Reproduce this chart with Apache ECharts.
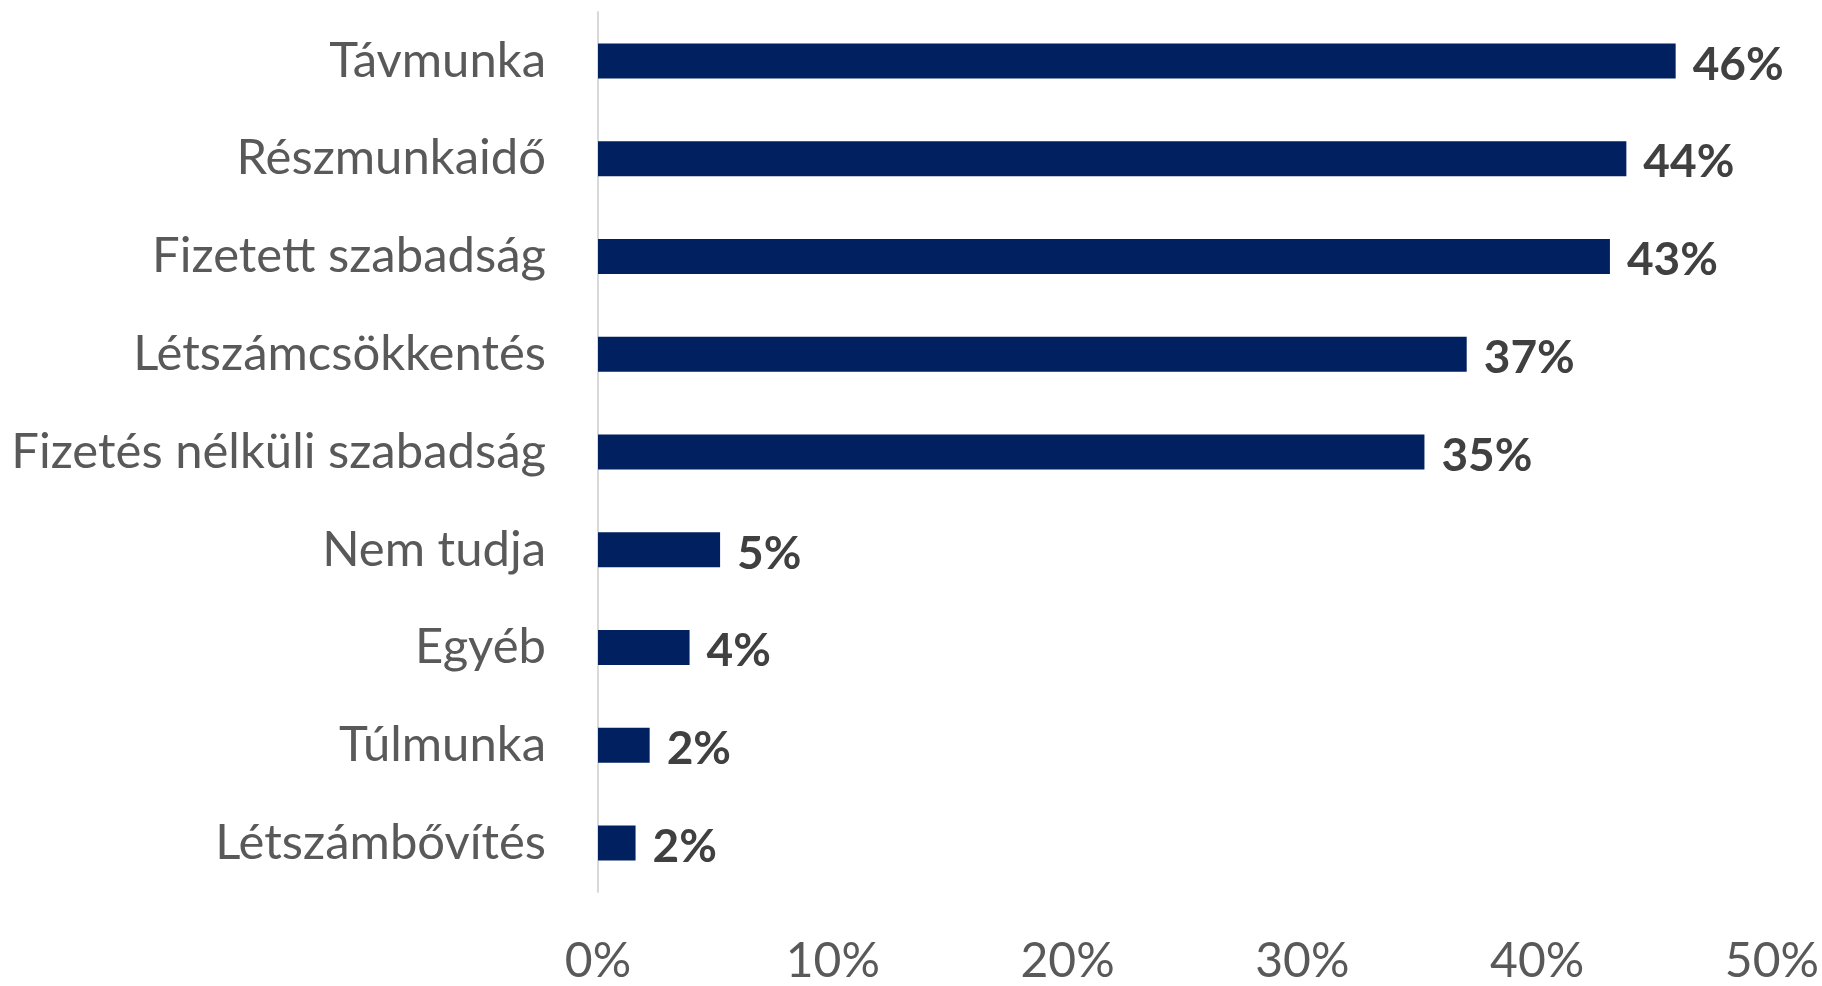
<!DOCTYPE html>
<html>
<head>
<meta charset="utf-8">
<script src="https://cdn.jsdelivr.net/npm/echarts@6/dist/echarts.min.js"></script>
<style>html,body{margin:0;padding:0;background:#fff;}#chart{width:1822px;height:986px;}</style>
</head>
<body>
<div id="chart"></div>
<script>
const categories = ["Távmunka","Részmunkaidő","Fizetett szabadság","Létszámcsökkentés","Fizetés nélküli szabadság","Nem tudja","Egyéb","Túlmunka","Létszámbővítés"];
const values = [45.9, 43.8, 43.1, 37.0, 35.2, 5.2, 3.9, 2.2, 1.6];
const xTicks = [0, 10, 20, 30, 40, 50];

const chart = echarts.init(document.getElementById('chart'));
chart.setOption({
  animation: false,
  grid: {left: 598, right: 50, top: 12, bottom: 88, containLabel: false},
  xAxis: {
    type: 'value', min: xTicks[0], max: xTicks[xTicks.length-1], interval: xTicks[1]-xTicks[0],
    axisLine: {show: false}, axisTick: {show: false}, splitLine: {show: false},
    axisLabel: {formatter: v => v + '%', color: '#595959', fontFamily: 'Lato', fontSize: 48, margin: 46}
  },
  yAxis: {
    type: 'category', data: categories, inverse: true,
    axisLine: {show: true, lineStyle: {color: '#d9d9d9', width: 2}},
    axisTick: {show: false},
    axisLabel: {color: '#595959', fontFamily: 'Lato', fontSize: 49, margin: 52}
  },
  series: [{
    type: 'bar', data: values, barWidth: 35,
    itemStyle: {color: '#002060'},
    label: {show: true, position: 'right', distance: 17, offset: [0, 4], formatter: p => Math.round(p.value) + '%',
      color: '#404040', fontWeight: 'bold', fontFamily: 'Lato', fontSize: 46}
  }]
});
</script>
</body>
</html>
